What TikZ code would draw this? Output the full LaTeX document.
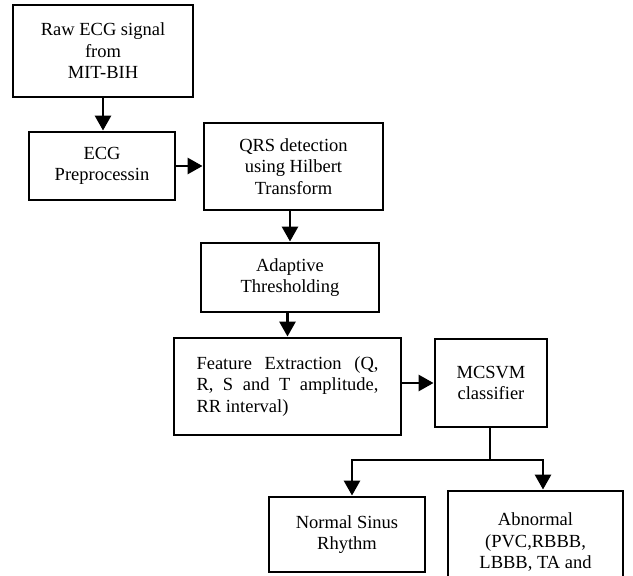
\documentclass[tikz,border=0pt]{standalone}
\usepackage{fontspec}
\setmainfont{Liberation Serif}
\usetikzlibrary{positioning, arrows.meta}

\tikzset{
  block/.style={draw, line width=2.9pt, align=center, inner sep=0pt, font=\fontsize{18.5}{21.5}\selectfont},
  flow/.style={draw, line width=2.9pt, -{Triangle[length=15pt,width=16pt]}}
}

\begin{document}
\begin{tikzpicture}[x=1pt, y=-1pt]
        \useasboundingbox (0,0) rectangle (633,576);
        \clip (0,0) rectangle (633,576);

        \node[block, minimum width=180pt, minimum height=92pt](raw) at (103,51){Raw ECG signal\\from\\MIT-BIH};
        \node[block, minimum width=146pt, minimum height=68pt](prep) at (102,166){ECG\\Preprocessin};
        \node[block, minimum width=179pt, minimum height=87pt](qrs) at (293.5,166.5){QRS detection\\using Hilbert\\Transform};
        \node[block, minimum width=178pt, minimum height=69pt](thresh) at (290,277.5){Adaptive\\Thresholding};
        \node[block, minimum width=227pt, minimum height=97pt, text width=182pt, align=justify](feat) at (287.5,386.5){Feature Extraction (Q,\linebreak R, S and T amplitude,\linebreak RR interval)};
        \node[block, minimum width=112pt, minimum height=88pt](svm) at (491,383){MCSVM\\classifier};
        \node[block, minimum width=156pt, minimum height=75pt](normal) at (347,534.5){Normal Sinus\\Rhythm};
        \node[block, minimum width=175pt, minimum height=102pt](abnormal) at (535.5,542){Abnormal\\(PVC,RBBB,\\LBBB, TA and};

        \coordinate (split) at (490,460);

        % arrows between the stages
        \path[flow] (raw.south) -- (raw.south |- prep.north);
        \path[flow] (prep.east) -- (prep.east -| qrs.west);
        \path[flow] (thresh.north |- qrs.south) -- (thresh.north);
        \path[flow] (feat.north |- thresh.south) -- (feat.north);
        \path[flow] (svm.west -| feat.east) -- (svm.west);
        \path[draw, line width=2.9pt] (split |- svm.south) -- (split);
        \path[flow] (split) -| ([xshift=5pt]normal.north);
        \path[flow] (split) -| ([xshift=7.5pt]abnormal.north);
    \end{tikzpicture}
\end{document}
